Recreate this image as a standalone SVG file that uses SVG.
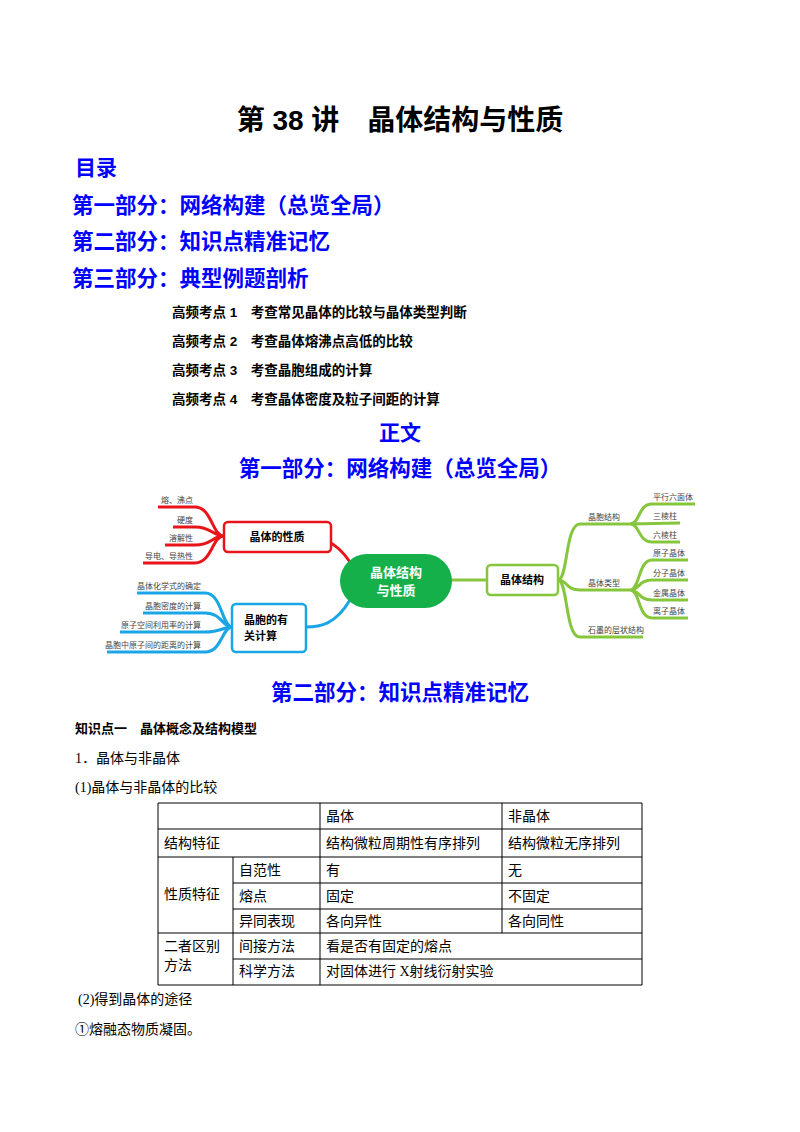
<svg xmlns="http://www.w3.org/2000/svg" width="800" height="1132" viewBox="0 0 800 1132">
<style>
.h{font-family:"Liberation Sans","Noto Sans CJK SC",sans-serif;font-weight:bold}
.b{fill:#0000ff}
.s{font-family:"Liberation Serif","Noto Sans CJK SC",serif;font-size:14px}
.m{font-family:"Noto Sans CJK SC",sans-serif;font-size:8px;fill:#444}
.r{fill:none;stroke:#e8141a;stroke-width:3}
.u{fill:none;stroke:#1aa5e6;stroke-width:3}
.g{fill:none;stroke:#86c63c;stroke-width:3}
.t{stroke:#000;stroke-width:1}
</style>
<rect width="800" height="1132" fill="#fff"/>
<text class="h" x="400" y="130" font-size="28" text-anchor="middle">第 38 讲　晶体结构与性质</text>
<text class="h b" x="75" y="175" font-size="21">目录</text>
<text class="h b" x="72" y="213" font-size="21.5">第一部分：网络构建（总览全局）</text>
<text class="h b" x="72" y="249" font-size="21.5">第二部分：知识点精准记忆</text>
<text class="h b" x="72" y="286" font-size="21.5">第三部分：典型例题剖析</text>
<g class="h" font-size="13.5">
<text x="172" y="317">高频考点 1　考查常见晶体的比较与晶体类型判断</text>
<text x="172" y="346">高频考点 2　考查晶体熔沸点高低的比较</text>
<text x="172" y="375">高频考点 3　考查晶胞组成的计算</text>
<text x="172" y="404">高频考点 4　考查晶体密度及粒子间距的计算</text>
</g>
<text class="h b" x="400" y="440" font-size="21" text-anchor="middle">正文</text>
<text class="h b" x="400" y="476" font-size="21.5" text-anchor="middle">第一部分：网络构建（总览全局）</text>
<g id="connectors">
<path class="r" d="M350 562 C335 540 320 536 300 536"/>
<path class="r" d="M224 536 C212 536 212 507 195 507 L158 507 M224 536 C212 536 212 527 195 527 L173 527 M224 536 C212 536 212 545 195 545 L165 545 M224 536 C212 536 212 563 195 563 L143 563"/>
<path class="u" d="M350 600 C335 625 320 627 306 627"/>
<path class="u" d="M232 627 C222 627 222 593 205 593 L137 593 M232 627 C222 627 222 613 205 613 L143 613 M232 627 C222 627 222 632 205 632 L120 632 M232 627 C222 627 222 652 205 652 L107 652"/>
<path class="g" d="M450 580 L487 580"/>
<path class="g" d="M558 580 C568 580 565 524 580 524 L630 524 M558 580 C568 580 565 590 580 590 L630 590 M558 580 C568 580 565 637 580 637 L643 637"/>
<path class="g" d="M630 524 C640 524 638 504 652 504 L695 504 M630 524 L680 523 M630 524 C640 524 638 542 652 542 L680 542"/>
<path class="g" d="M630 590 C640 590 638 560 652 560 L688 560 M630 590 C640 590 638 580 652 580 L688 580 M630 590 C640 590 638 600 652 600 L688 600 M630 590 C640 590 638 618 652 618 L688 618"/>
</g>
<g id="center"><rect x="340" y="554" width="112" height="54" rx="27" fill="#16b04a"/><text class="h" x="396" y="577" font-size="13" fill="#fff" text-anchor="middle">晶体结构</text><text class="h" x="396" y="595" font-size="13" fill="#fff" text-anchor="middle">与性质</text></g>
<g id="prop"><rect x="224" y="522" width="107" height="30" rx="4" fill="#fff" stroke="#e8141a" stroke-width="2.5"/><text class="h" x="277" y="541" font-size="11" text-anchor="middle">晶体的性质</text></g>
<g id="calc"><rect x="232" y="604" width="74" height="48" rx="4" fill="#fff" stroke="#1aa5e6" stroke-width="2.5"/><text class="h" x="244" y="624" font-size="11">晶胞的有</text><text class="h" x="244" y="640" font-size="11">关计算</text></g>
<g id="struct"><rect x="487" y="565" width="71" height="30" rx="4" fill="#fff" stroke="#86c63c" stroke-width="2.5"/><text class="h" x="522" y="584" font-size="11" text-anchor="middle">晶体结构</text></g>
<g class="m">
<text x="193" y="503" text-anchor="end">熔、沸点</text><text x="193" y="523" text-anchor="end">硬度</text><text x="193" y="541" text-anchor="end">溶解性</text><text x="193" y="559" text-anchor="end">导电、导热性</text>
<text x="201" y="589" text-anchor="end">晶体化学式的确定</text><text x="201" y="609" text-anchor="end">晶胞密度的计算</text><text x="201" y="628" text-anchor="end">原子空间利用率的计算</text><text x="201" y="648" text-anchor="end">晶胞中原子间的距离的计算</text>
<text x="588" y="520">晶胞结构</text><text x="588" y="586">晶体类型</text><text x="588" y="633">石墨的层状结构</text>
<text x="653" y="500">平行六面体</text><text x="653" y="519">三棱柱</text><text x="653" y="538">六棱柱</text>
<text x="653" y="556">原子晶体</text><text x="653" y="576">分子晶体</text><text x="653" y="596">金属晶体</text><text x="653" y="614">离子晶体</text>
</g>
<text class="h b" x="400" y="700" font-size="21.5" text-anchor="middle">第二部分：知识点精准记忆</text>
<text class="h" x="75" y="733" font-size="13">知识点一　晶体概念及结构模型</text>
<text class="s" x="75" y="763">1．晶体与非晶体</text>
<text class="s" x="75" y="792">(1)晶体与非晶体的比较</text>
<g id="table">
<g class="t"><line x1="158" y1="803" x2="642" y2="803"/><line x1="158" y1="829" x2="642" y2="829"/><line x1="158" y1="857" x2="642" y2="857"/><line x1="233" y1="883" x2="642" y2="883"/><line x1="233" y1="909" x2="642" y2="909"/><line x1="158" y1="933" x2="642" y2="933"/><line x1="233" y1="959" x2="642" y2="959"/><line x1="158" y1="985" x2="642" y2="985"/>
<line x1="158" y1="803" x2="158" y2="985"/><line x1="233" y1="857" x2="233" y2="985"/><line x1="320" y1="803" x2="320" y2="985"/><line x1="502" y1="803" x2="502" y2="933"/><line x1="642" y1="803" x2="642" y2="985"/></g>
<g class="s"><text x="326" y="821">晶体</text><text x="508" y="821">非晶体</text>
<text x="164" y="848">结构特征</text><text x="326" y="848">结构微粒周期性有序排列</text><text x="508" y="848">结构微粒无序排列</text>
<text x="239" y="875">自范性</text><text x="326" y="875">有</text><text x="508" y="875">无</text>
<text x="164" y="899">性质特征</text><text x="239" y="901">熔点</text><text x="326" y="901">固定</text><text x="508" y="901">不固定</text>
<text x="239" y="926">异同表现</text><text x="326" y="926">各向异性</text><text x="508" y="926">各向同性</text>
<text x="164" y="951">二者区别</text><text x="164" y="970">方法</text><text x="239" y="951">间接方法</text><text x="326" y="951">看是否有固定的熔点</text>
<text x="239" y="976">科学方法</text><text x="326" y="976">对固体进行 X射线衍射实验</text></g>
</g>
<text class="s" x="78" y="1004"> (2)得到晶体的途径</text>
<text class="s" x="75" y="1034">①熔融态物质凝固。</text>
</svg>
